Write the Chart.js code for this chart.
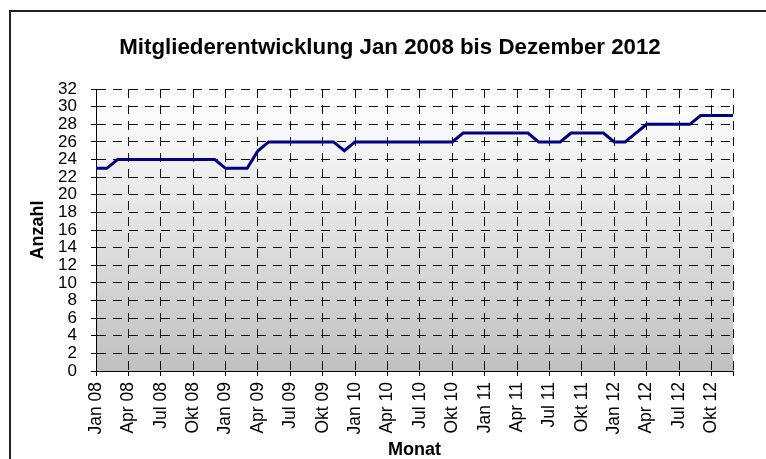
<!DOCTYPE html>
<html>
<head>
<meta charset="utf-8">
<script src="https://cdn.jsdelivr.net/npm/chart.js@4"></script>
<style>
  html, body { margin: 0; padding: 0; background: #fff; }
  #wrap { position: relative; width: 766px; height: 459px; overflow: hidden; }
  #rahmen { position: absolute; left: 9px; top: 10px; width: 820px; height: 520px; border: 2px solid #222; pointer-events: none; }
</style>
</head>
<body>
<div id="wrap">
  <canvas id="lineChart" width="766" height="459"></canvas>
  <div id="rahmen"></div>
</div>
<script>
  const monate = [
    'Jan 08','Feb 08','Mrz 08','Apr 08','Mai 08','Jun 08','Jul 08','Aug 08','Sep 08','Okt 08','Nov 08','Dez 08',
    'Jan 09','Feb 09','Mrz 09','Apr 09','Mai 09','Jun 09','Jul 09','Aug 09','Sep 09','Okt 09','Nov 09','Dez 09',
    'Jan 10','Feb 10','Mrz 10','Apr 10','Mai 10','Jun 10','Jul 10','Aug 10','Sep 10','Okt 10','Nov 10','Dez 10',
    'Jan 11','Feb 11','Mrz 11','Apr 11','Mai 11','Jun 11','Jul 11','Aug 11','Sep 11','Okt 11','Nov 11','Dez 11',
    'Jan 12','Feb 12','Mrz 12','Apr 12','Mai 12','Jun 12','Jul 12','Aug 12','Sep 12','Okt 12','Nov 12','Dez 12'
  ];

  const anzahl = [
    23, 23, 24, 24, 24, 24, 24, 24, 24, 24, 24, 24,
    23, 23, 23, 25, 26, 26, 26, 26, 26, 26, 26, 25,
    26, 26, 26, 26, 26, 26, 26, 26, 26, 26, 27, 27,
    27, 27, 27, 27, 27, 26, 26, 26, 27, 27, 27, 27,
    26, 26, 27, 28, 28, 28, 28, 28, 29, 29, 29, 29
  ];

  const yMin = 0;
  const yMax = 32;
  const yStep = 2;
  const labelEvery = 3;

  const font = "'Liberation Sans', Arial, sans-serif";

  // grauer Verlauf hinter dem Diagramm
  const plotBg = {
    id: 'plotBg',
    beforeDraw(chart) {
      const { ctx, chartArea: a } = chart;
      const g = ctx.createLinearGradient(0, a.top, 0, a.bottom);
      g.addColorStop(0, '#ffffff');
      g.addColorStop(0.12, '#fafafa');
      g.addColorStop(1, '#c0c0c0');
      ctx.save();
      ctx.fillStyle = g;
      ctx.fillRect(a.left, a.top, a.right - a.left, a.bottom - a.top);
      ctx.restore();
    }
  };

  const showTick = (i) => i % labelEvery === 0 || i === monate.length - 1;

  const ctx = document.getElementById('lineChart').getContext('2d');
  new Chart(ctx, {
    type: 'line',
    data: {
      labels: monate,
      datasets: [{
        label: 'Anzahl',
        data: anzahl,
        borderColor: '#000080',
        borderWidth: 3,
        pointRadius: 0,
        tension: 0,
        fill: false
      }]
    },
    options: {
      responsive: false,
      animation: false,
      layout: { padding: { left: 14, right: 0, top: 0, bottom: 0 } },
      plugins: {
        legend: { display: false },
        tooltip: { enabled: false },
        title: {
          display: true,
          text: 'Mitgliederentwicklung Jan 2008 bis Dezember 2012',
          color: '#000',
          font: { family: font, size: 22.3, weight: 'bold', lineHeight: 1.2 },
          padding: { top: 34, bottom: 28.3 }
        }
      },
      scales: {
        x: {
          offset: false,
          afterFit: (s) => { s.height = 88; },
          grid: {
            color: (c) => showTick(c.index) ? '#111' : 'transparent',
            tickColor: (c) => showTick(c.index) ? '#000' : 'transparent',
            lineWidth: 1,
            tickLength: 5
          },
          border: { display: true, color: '#000', width: 1, dash: [9, 7] },
          ticks: {
            autoSkip: false,
            maxRotation: 90,
            minRotation: 90,
            padding: 6,
            color: '#000',
            font: { family: font, size: 17.5 },
            callback: function (v, i) { return i % labelEvery === 0 ? monate[i] : ''; }
          },
          title: {
            display: true,
            text: 'Monat',
            color: '#000',
            font: { family: font, size: 18, weight: 'bold', lineHeight: 1 },
            padding: { top: 0, bottom: 0 }
          }
        },
        y: {
          min: yMin,
          max: yMax,
          afterFit: (s) => { s.width = 82; },
          grid: { color: '#111', lineWidth: 1, tickLength: 5, tickColor: '#000' },
          border: { display: true, color: '#000', width: 1, dash: [9, 7] },
          ticks: {
            stepSize: yStep,
            autoSkip: false,
            padding: 14,
            color: '#000',
            font: { family: font, size: 17 }
          },
          title: {
            display: true,
            text: 'Anzahl',
            color: '#000',
            font: { family: font, size: 18, weight: 'bold', lineHeight: 1 },
            padding: { top: 15.5, bottom: 0 }
          }
        },
        // leere Achse rechts, damit der Titel mittig über dem Rahmen sitzt
        rechts: {
          position: 'right',
          display: true,
          afterFit: (s) => { s.width = 33; },
          grid: { display: false, drawOnChartArea: false },
          border: { display: false },
          ticks: { display: false }
        }
      }
    },
    plugins: [plotBg]
  });
</script>
</body>
</html>
